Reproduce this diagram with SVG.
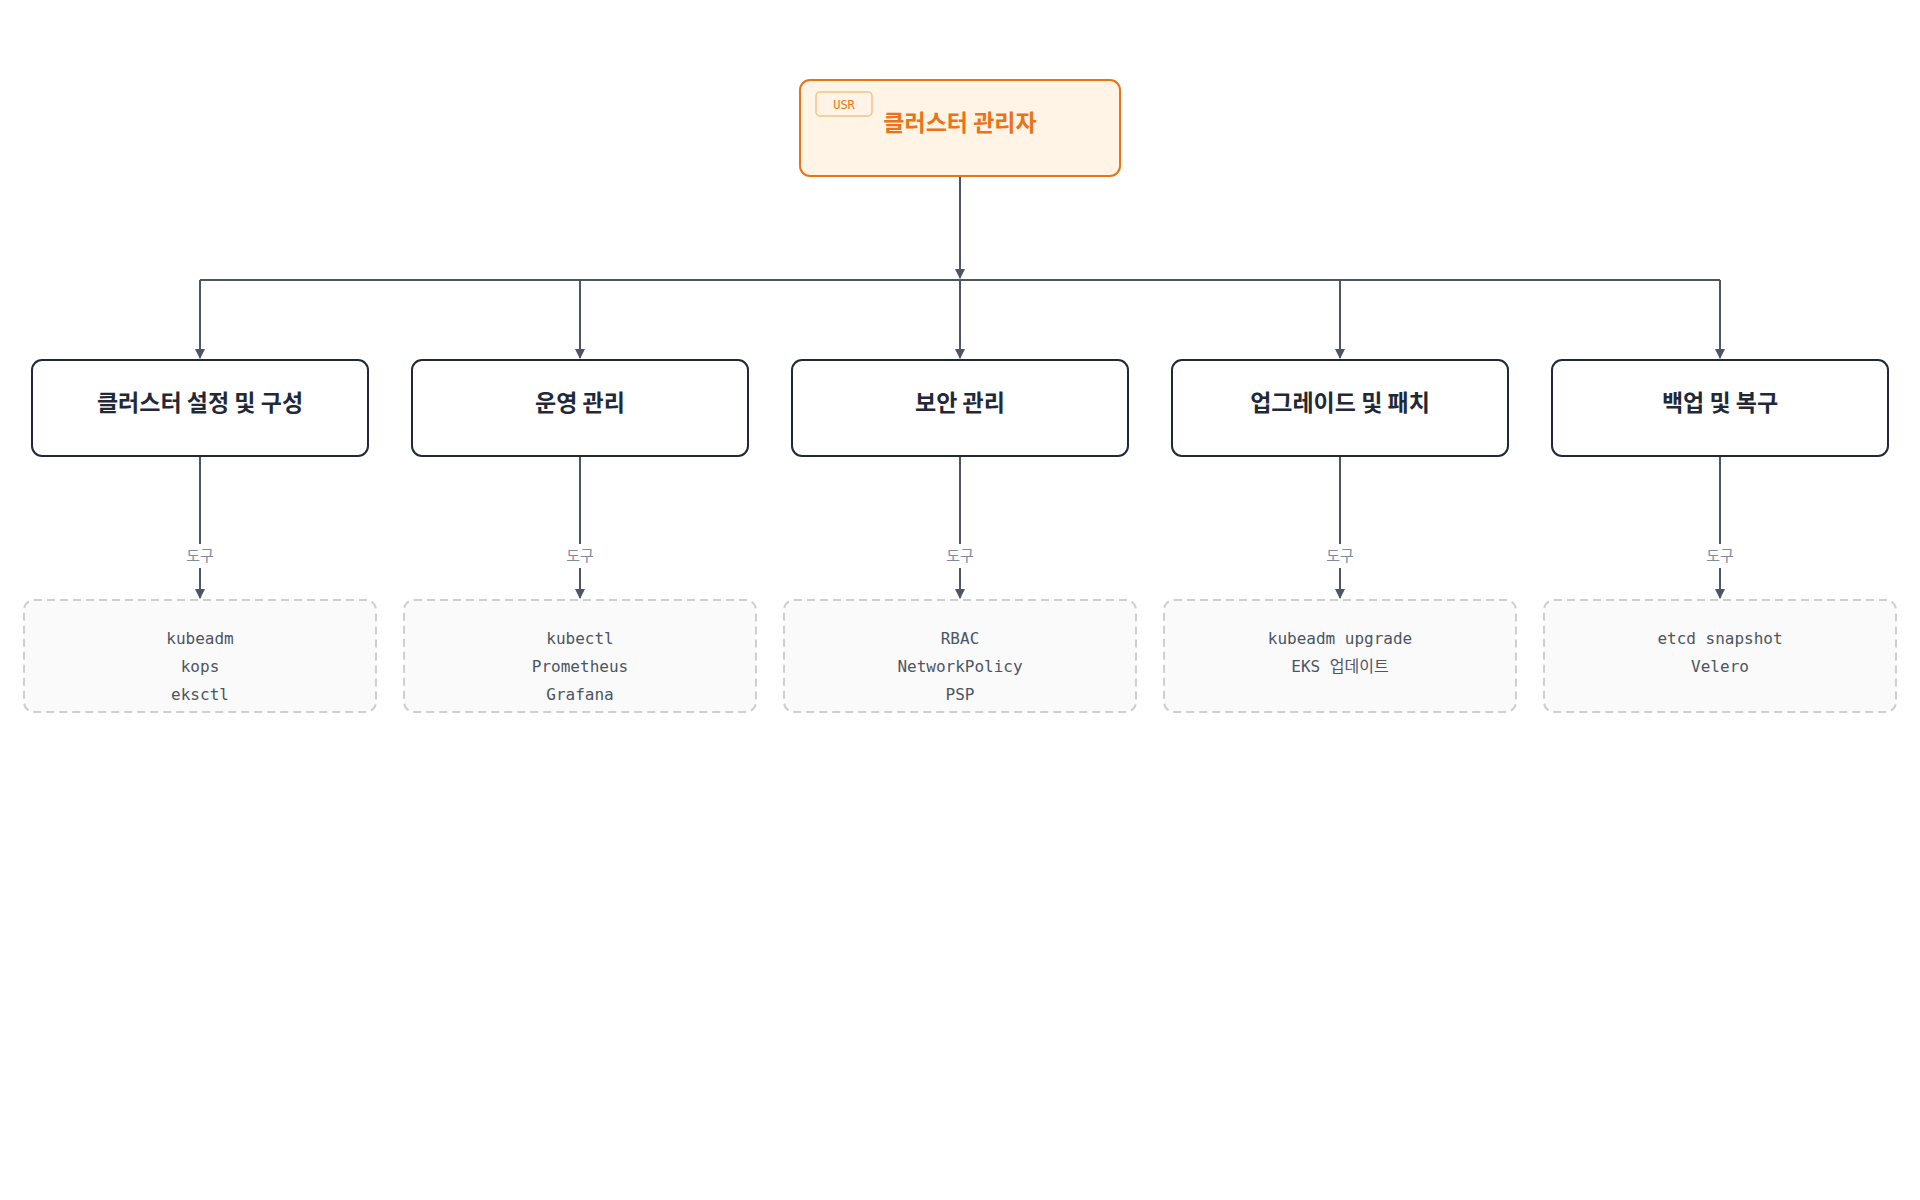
<svg xmlns="http://www.w3.org/2000/svg" width="1920" height="1200" viewBox="0 0 1920 1200">
<defs>
<marker id="ah" markerWidth="10" markerHeight="10" refX="9" refY="5" orient="auto" markerUnits="userSpaceOnUse"><path d="M0,0 L10,5 L0,10 z" fill="#4b5563"/></marker>
<style>
.n rect{fill:#fff;stroke:#1f2937;stroke-width:2}
.n text{font-family:"Noto Sans CJK KR","Noto Sans",sans-serif;font-weight:700;font-size:23px;fill:#1f2937;text-anchor:middle}
.t rect{fill:#fafafa;stroke:#cfcfcf;stroke-width:2;stroke-dasharray:8 5}
.t text{font-family:"DejaVu Sans Mono","Noto Sans CJK KR",monospace;font-size:16px;fill:#4b5563;text-anchor:middle}
.c path{fill:none;stroke:#4b5563;stroke-width:2}
.lbl{font-family:"Noto Sans CJK KR",sans-serif;font-size:15px;fill:#7c8aa3;text-anchor:middle}
</style>
</defs>
<rect width="1920" height="1200" fill="#fff"/>
<g id="connectors" class="c">
<path d="M960 176 V278" marker-end="url(#ah)"/>
<path d="M200 280 H1720"/>
<path d="M200 280 V358" marker-end="url(#ah)"/>
<path d="M580 280 V358" marker-end="url(#ah)"/>
<path d="M960 280 V358" marker-end="url(#ah)"/>
<path d="M1340 280 V358" marker-end="url(#ah)"/>
<path d="M1720 280 V358" marker-end="url(#ah)"/>
<path d="M200 456 V544 M200 568 V598" marker-end="url(#ah)"/>
<path d="M580 456 V544 M580 568 V598" marker-end="url(#ah)"/>
<path d="M960 456 V544 M960 568 V598" marker-end="url(#ah)"/>
<path d="M1340 456 V544 M1340 568 V598" marker-end="url(#ah)"/>
<path d="M1720 456 V544 M1720 568 V598" marker-end="url(#ah)"/>
<text class="lbl" x="200" y="561">도구</text>
<text class="lbl" x="580" y="561">도구</text>
<text class="lbl" x="960" y="561">도구</text>
<text class="lbl" x="1340" y="561">도구</text>
<text class="lbl" x="1720" y="561">도구</text>
</g>
<g id="admin">
<rect x="800" y="80" width="320" height="96" rx="10" fill="#fff4e5" stroke="#ea7317" stroke-width="2"/>
<rect x="816" y="92" width="56" height="24" rx="4" fill="#fff4e5" stroke="#f5c08e" stroke-width="1.5"/>
<text x="844" y="109" font-family="DejaVu Sans Mono,monospace" font-size="12" fill="#ea7317" text-anchor="middle">USR</text>
<text x="960" y="131" font-family="Noto Sans CJK KR,sans-serif" font-weight="700" font-size="23" fill="#ea7317" text-anchor="middle">클러스터 관리자</text>
</g>
<g id="n1" class="n"><rect x="32" y="360" width="336" height="96" rx="10"/><text x="200" y="411">클러스터 설정 및 구성</text></g>
<g id="n2" class="n"><rect x="412" y="360" width="336" height="96" rx="10"/><text x="580" y="411">운영 관리</text></g>
<g id="n3" class="n"><rect x="792" y="360" width="336" height="96" rx="10"/><text x="960" y="411">보안 관리</text></g>
<g id="n4" class="n"><rect x="1172" y="360" width="336" height="96" rx="10"/><text x="1340" y="411">업그레이드 및 패치</text></g>
<g id="n5" class="n"><rect x="1552" y="360" width="336" height="96" rx="10"/><text x="1720" y="411">백업 및 복구</text></g>
<g id="t1" class="t"><rect x="24" y="600" width="352" height="112" rx="10"/><text x="200" y="644">kubeadm</text><text x="200" y="672">kops</text><text x="200" y="700">eksctl</text></g>
<g id="t2" class="t"><rect x="404" y="600" width="352" height="112" rx="10"/><text x="580" y="644">kubectl</text><text x="580" y="672">Prometheus</text><text x="580" y="700">Grafana</text></g>
<g id="t3" class="t"><rect x="784" y="600" width="352" height="112" rx="10"/><text x="960" y="644">RBAC</text><text x="960" y="672">NetworkPolicy</text><text x="960" y="700">PSP</text></g>
<g id="t4" class="t"><rect x="1164" y="600" width="352" height="112" rx="10"/><text x="1340" y="644">kubeadm upgrade</text><text x="1340" y="672">EKS 업데이트</text></g>
<g id="t5" class="t"><rect x="1544" y="600" width="352" height="112" rx="10"/><text x="1720" y="644">etcd snapshot</text><text x="1720" y="672">Velero</text></g>
</svg>
